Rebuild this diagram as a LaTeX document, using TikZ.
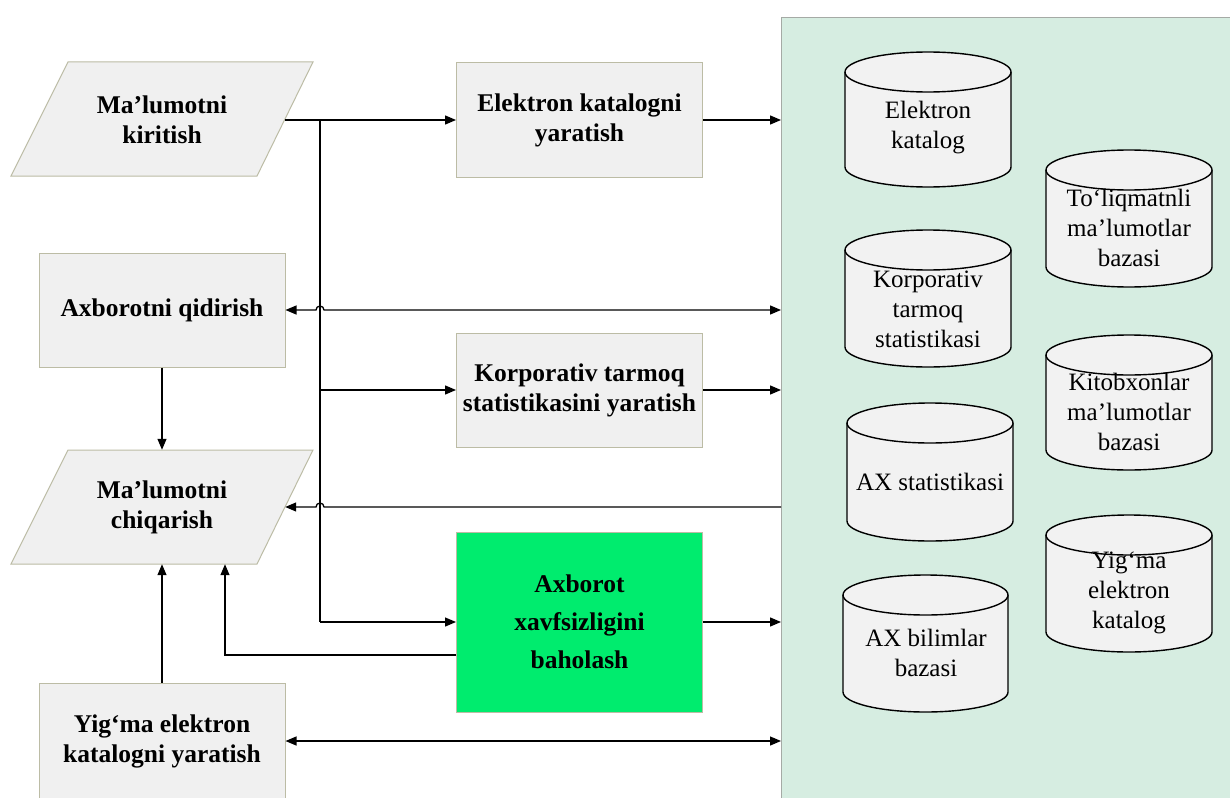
\documentclass[tikz,border=0pt]{standalone}
\usepackage{fontspec}
\setmainfont{Liberation Serif}
\usetikzlibrary{arrows.meta,calc}
\definecolor{boxfill}{RGB}{240,240,240}
\definecolor{boxline}{RGB}{188,188,165}
\definecolor{panelfill}{RGB}{214,237,225}
\definecolor{panelline}{RGB}{165,170,165}
\definecolor{greenfill}{RGB}{0,236,110}
\definecolor{cylfill}{RGB}{242,242,242}

% database cylinder: #1 left x, #2 right x, #3 top y, #4 bottom y
\newcommand\dbcyl[4]{%
  \pgfmathsetmacro\cylrx{(#2-#1)/2}%
  \filldraw[cyl] (#1,#3+20) -- (#1,#4-20)
    arc[start angle=180,end angle=0,x radius=\cylrx,y radius=20]
    -- (#2,#3+20)
    arc[start angle=0,end angle=-180,x radius=\cylrx,y radius=20] -- cycle;
  \draw[cyl] (#1,#3+20) arc[start angle=180,end angle=0,x radius=\cylrx,y radius=20];
}

\begin{document}
\begin{tikzpicture}[x=1pt,y=-1pt,
  proc/.style={draw=boxline, fill=boxfill, line width=1pt, minimum width=246pt,
    minimum height=114pt, inner sep=0pt, align=center,
    font=\fontsize{25.5}{30}\selectfont\bfseries},
  iotext/.style={minimum width=246pt, minimum height=114pt, inner sep=0pt,
    align=center, font=\fontsize{25.5}{30}\selectfont\bfseries},
  iobox/.style={draw=boxline, fill=boxfill, line width=1pt},
  cyl/.style={draw=black, fill=cylfill, line width=1.4pt},
  dbtext/.style={align=center, inner sep=0pt, font=\fontsize{25}{30}\selectfont},
  conn/.style={line width=1.3pt, -{Triangle[length=11pt,width=9pt]}},
  both/.style={line width=1.3pt, {Triangle[length=11pt,width=9pt]}-{Triangle[length=11pt,width=9pt]}},
  plain/.style={line width=1.3pt},
]
\useasboundingbox (0,0) rectangle (1230,797);
\fill[white] (0,0) rectangle (1230,797);

% storage area on the right
\node[draw=panelline, fill=panelfill, line width=1pt, anchor=north west,
  minimum width=480pt, minimum height=820pt, inner sep=0pt] (panel) at (781,17) {};

% input / output parallelograms
\draw[iobox] (11,176) -- (68,62) -- (313,62) -- (257,176) -- cycle;
\node[iotext] (kir) at (162,120) {Ma’lumotni\\kiritish};
\draw[iobox] (11,564) -- (68,450) -- (313,450) -- (257,564) -- cycle;
\node[iotext] (chq) at (162,507) {Ma’lumotni\\chiqarish};

% process boxes
\node[proc] (ek) at (579.5,120) {Elektron katalogni\\yaratish};
\node[proc] (qid) at (162,310) {Axborotni qidirish};
\node[proc] (kts) at (579.5,390) {Korporativ tarmoq\\statistikasini yaratish};
\node[proc, fill=greenfill, minimum height=180pt,
  font=\fontsize{25.5}{38}\selectfont\bfseries] (axb) at (579.5,622)
  {Axborot\\xavfsizligini\\baholash};
\node[proc, minimum height=116pt] (yig) at (162,741) {Yig‘ma elektron\\katalogni yaratish};

% databases
\dbcyl{845}{1011}{52}{187}
\node[dbtext] (dbek) at (928,128) {Elektron\\katalog};
\dbcyl{1046}{1212}{150}{287}
\node[dbtext] (dbtol) at (1129,228) {To‘liqmatnli\\ma’lumotlar\\bazasi};
\dbcyl{845}{1011}{230}{367}
\node[dbtext] (dbkor) at (928,309) {Korporativ\\tarmoq\\statistikasi};
\dbcyl{1046}{1212}{335}{470}
\node[dbtext] (dbkit) at (1129,412) {Kitobxonlar\\ma’lumotlar\\bazasi};
\dbcyl{847}{1013}{403}{541}
\node[dbtext] (dbaxs) at (930,482) {AX statistikasi};
\dbcyl{1046}{1212}{515}{652}
\node[dbtext] (dbyig) at (1129,593) {Yig‘ma\\elektron\\katalog};
\dbcyl{843}{1008}{575}{712}
\node[dbtext] (dbaxb) at (926,653) {AX bilimlar\\bazasi};

% distribution bus from the input
\coordinate (bus) at (320,120);
\coordinate (fb) at (225,655);
\draw[conn] (kir.east) -- (ek.west);
\draw[plain] (bus) -- (bus |- axb.west);
\draw[conn] (bus |- kts.west) -- (kts.west);
\draw[conn] (bus |- axb.west) -- (axb.west);

% process outputs into storage
\draw[conn] (ek.east) -- (ek.east -| panel.west);
\draw[conn] (kts.east) -- (kts.east -| panel.west);
\draw[conn] (axb.east) -- (axb.east -| panel.west);

% search and output links with hops over the bus
\draw[both] (qid.east) -- ($(bus |- qid.east)+(-4,0)$)
  arc[start angle=180,end angle=360,radius=4] -- (qid.east -| panel.west);
\draw[conn] (chq.east -| panel.west) -- ($(bus |- chq.east)+(4,0)$)
  arc[start angle=0,end angle=-180,radius=4] -- (chq.east);

\draw[conn] (qid.south) -- (chq.north);
\draw[conn] (yig.north) -- (chq.south);
\draw[conn] (axb.west |- fb) -- (fb) -- (fb |- chq.south);
\draw[both] (yig.east) -- (yig.east -| panel.west);
\end{tikzpicture}
\end{document}
